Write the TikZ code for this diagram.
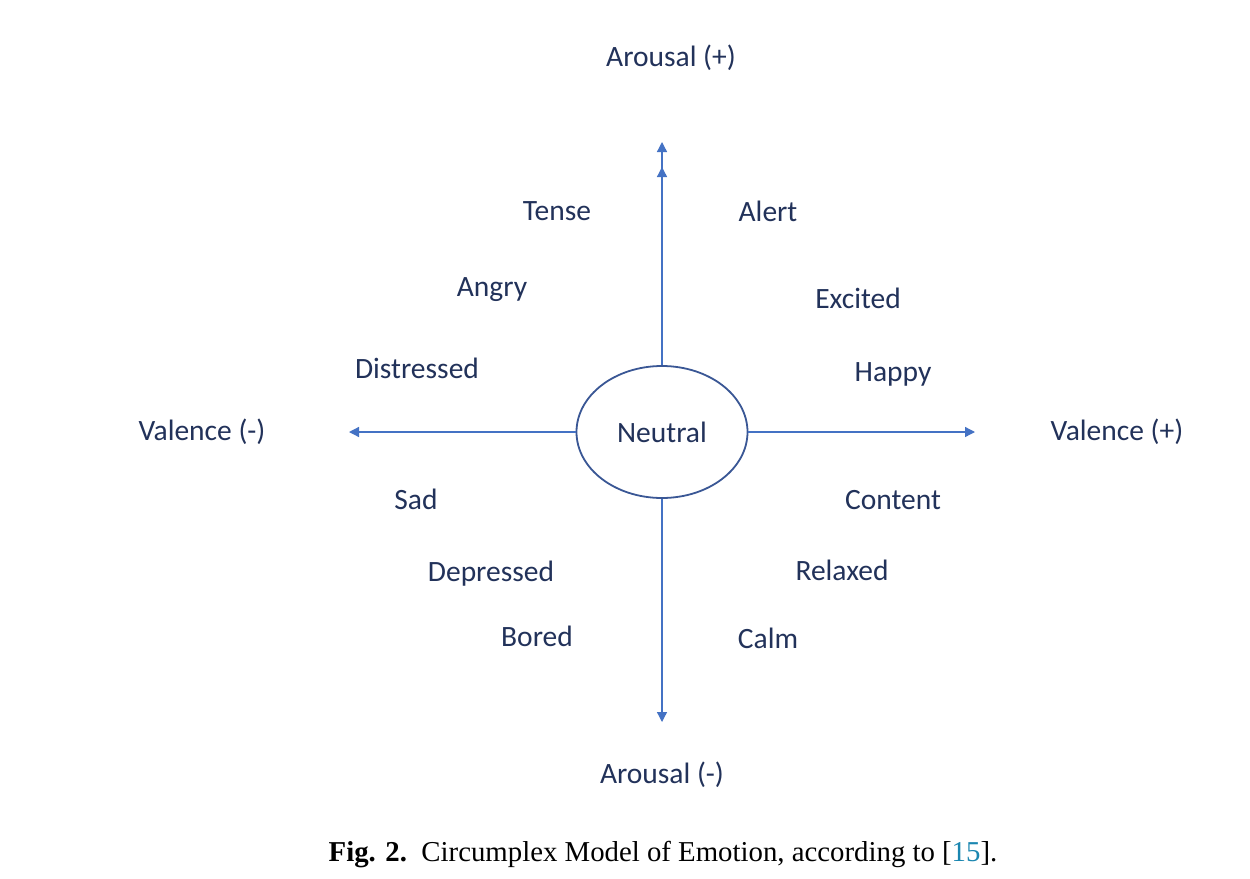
\documentclass[tikz,border=0pt]{standalone}
\usepackage{fontspec}
\setmainfont{Carlito}
\newfontfamily\capfont{Liberation Serif}
\usetikzlibrary{shapes.geometric,arrows.meta}
\definecolor{txt}{HTML}{22325A}
\definecolor{axis}{HTML}{4472C4}
\definecolor{ell}{HTML}{3A5795}
\definecolor{cite}{HTML}{1A86B0}
\tikzset{
  lbl/.style={text=txt,font=\fontsize{29.5}{34}\selectfont,inner sep=0pt,anchor=center},
  axisline/.style={draw=axis,line width=1.3pt,-{Triangle[length=10pt,width=10pt]}},
}
\begin{document}
\begin{tikzpicture}[x=1pt,y=-1pt]
\useasboundingbox[fill=white] (0,0) rectangle (1250,878);
\node[draw=ell,line width=1.8pt,ellipse,minimum width=171pt,minimum height=132pt,inner sep=0pt] (neutral) at (662,432) {};
\node[lbl] (neutraltxt) at (662,432) {Neutral};
\coordinate (top) at (662,142);
\coordinate (bottom) at (662,722);
\coordinate (left) at (349,432);
\coordinate (right) at (975,432);
\draw[draw=axis,line width=1.3pt,-{Triangle[length=10pt,width=10pt,sep=15pt]Triangle[length=10pt,width=10pt]}] (neutral.north) -- (top);
\draw[axisline] (neutral.south) -- (bottom);
\draw[axisline] (neutral.west) -- (left);
\draw[axisline] (neutral.east) -- (right);
\node[lbl] (arp) at (671,58) {Arousal (+)};
\node[lbl] (arm) at (662,775) {Arousal (-)};
\node[lbl] (vm) at (202,432) {Valence (-)};
\node[lbl] (vp) at (1117,432) {Valence (+)};
\node[lbl] (tense) at (557,211) {Tense};
\node[lbl] (alert) at (768,211) {Alert};
\node[lbl] (angry) at (492,290) {Angry};
\node[lbl] (excited) at (858,298) {Excited};
\node[lbl] (distressed) at (417,368) {Distressed};
\node[lbl] (happy) at (893,374) {Happy};
\node[lbl] (sad) at (416,499) {Sad};
\node[lbl] (content) at (893,500) {Content};
\node[lbl] (depressed) at (491,574) {Depressed};
\node[lbl] (relaxed) at (842,570) {Relaxed};
\node[lbl] (bored) at (537,636) {Bored};
\node[lbl] (calm) at (768,638) {Calm};
\node[inner sep=0pt,font=\capfont\fontsize{28.8}{33}\selectfont] (caption) at (663,855) {\textbf{Fig. 2.}\enspace Circumplex Model of Emotion, according to [\textcolor{cite}{15}].};
\end{tikzpicture}
\end{document}
